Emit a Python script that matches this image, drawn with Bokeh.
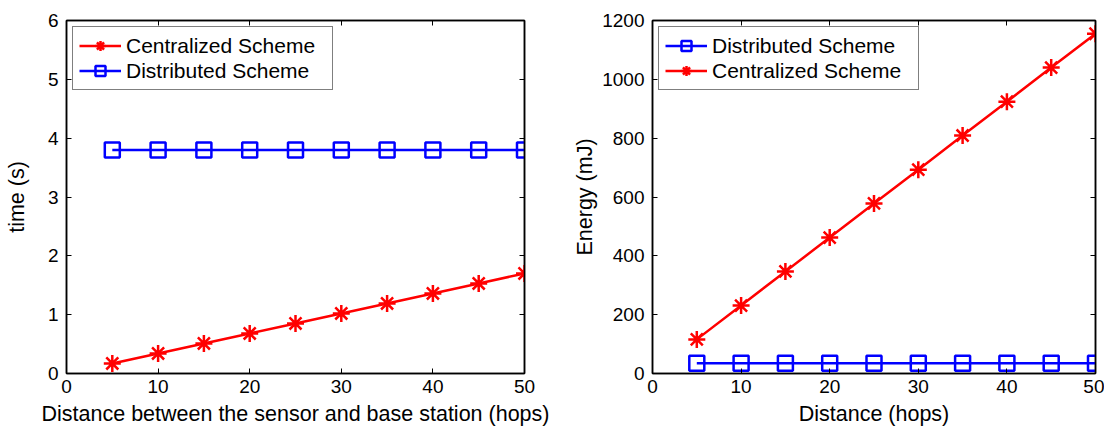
from bokeh.plotting import figure
from bokeh.layouts import row
from bokeh.models import LinearAxis, FixedTicker, Range1d, CustomJSTickFormatter
from bokeh.embed import file_html
from bokeh.resources import INLINE

hops = [5, 10, 15, 20, 25, 30, 35, 40, 45, 50]
time_central = [0.17, 0.34, 0.51, 0.68, 0.85, 1.02, 1.19, 1.36, 1.53, 1.70]
time_distrib = [3.8, 3.8, 3.8, 3.8, 3.8, 3.8, 3.8, 3.8, 3.8, 3.8]
energy_central = [116, 231, 347, 462, 578, 693, 809, 924, 1040, 1155]
energy_distrib = [35, 35, 35, 35, 35, 35, 35, 35, 35, 35]

x_ticks = [0, 10, 20, 30, 40, 50]
time_ticks = [0, 1, 2, 3, 4, 5, 6]
energy_ticks = [0, 200, 400, 600, 800, 1000, 1200]

FONT = "Liberation Sans"
RED = "#ff0000"
BLUE = "#0000ff"


def style_axis(ax, ticks, show_labels=True):
    ax.ticker = FixedTicker(ticks=ticks)
    ax.major_tick_in = 5
    ax.major_tick_out = 0
    ax.minor_tick_line_color = None
    ax.axis_line_color = "black"
    ax.axis_line_width = 1.5
    ax.major_tick_line_color = "black"
    ax.major_tick_line_width = 1
    ax.major_label_text_font = FONT
    ax.major_label_text_font_size = "19px"
    ax.major_label_text_color = "black"
    ax.axis_label_text_font = FONT
    ax.axis_label_text_font_size = "21.5px"
    ax.axis_label_text_font_style = "normal"
    ax.axis_label_text_color = "black"
    if not show_labels:
        ax.formatter = CustomJSTickFormatter(code="return '';")
        ax.major_label_standoff = 0


def make_fig(width, border_left, border_right, yr, yticks, xlabel, ylabel, ylab_standoff):
    p = figure(width=width, height=429, output_backend="svg", toolbar_location=None,
               x_range=Range1d(0, 50), y_range=Range1d(*yr),
               min_border_left=border_left, min_border_right=border_right,
               min_border_top=20, min_border_bottom=56)
    p.xgrid.visible = False
    p.ygrid.visible = False
    p.outline_line_color = "black"
    p.outline_line_width = 1.5
    style_axis(p.xaxis[0], x_ticks)
    style_axis(p.yaxis[0], yticks)
    p.xaxis[0].axis_label = xlabel
    p.yaxis[0].axis_label = ylabel
    p.xaxis[0].major_label_standoff = 6
    p.xaxis[0].axis_label_standoff = 6
    p.yaxis[0].major_label_standoff = 8
    p.yaxis[0].axis_label_standoff = ylab_standoff
    top = LinearAxis()
    style_axis(top, x_ticks, False)
    p.add_layout(top, "above")
    right = LinearAxis()
    style_axis(right, yticks, False)
    p.add_layout(right, "right")
    p.background_fill_color = "white"
    p.border_fill_color = "white"
    return p


def add_central(p, y):
    p.line(hops, y, line_color=RED, line_width=2.5, legend_label="Centralized Scheme")
    p.scatter(hops, y, marker="asterisk", size=17, line_color=RED, line_width=2.5,
              legend_label="Centralized Scheme")


def add_distrib(p, y):
    p.line(hops, y, line_color=BLUE, line_width=2.5, legend_label="Distributed Scheme")
    p.scatter(hops, y, marker="square", size=15, line_color=BLUE, fill_color=None,
              line_width=2.5, legend_label="Distributed Scheme")


def style_legend(p):
    lg = p.legend[0]
    lg.location = "top_left"
    lg.margin = 6
    lg.padding = 6
    lg.spacing = 0
    lg.border_line_color = "black"
    lg.border_line_width = 1.5
    lg.background_fill_alpha = 1.0
    lg.label_text_font = FONT
    lg.label_text_font_size = "21px"
    lg.label_text_color = "black"
    lg.glyph_width = 42
    lg.glyph_height = 25
    lg.label_height = 25
    lg.label_width = 200
    lg.label_standoff = 5


p1 = make_fig(560, 66, 36, (0, 6), time_ticks,
              "Distance between the sensor and base station (hops)", "time (s)", 16)
add_central(p1, time_central)
add_distrib(p1, time_distrib)
style_legend(p1)

p2 = make_fig(544, 92, 9, (0, 1200), energy_ticks, "Distance (hops)", "Energy (mJ)", 2)
add_distrib(p2, energy_distrib)
add_central(p2, energy_central)
style_legend(p2)

layout = row(p1, p2, spacing=0)
open("out.html", "w").write(file_html(layout, INLINE))
